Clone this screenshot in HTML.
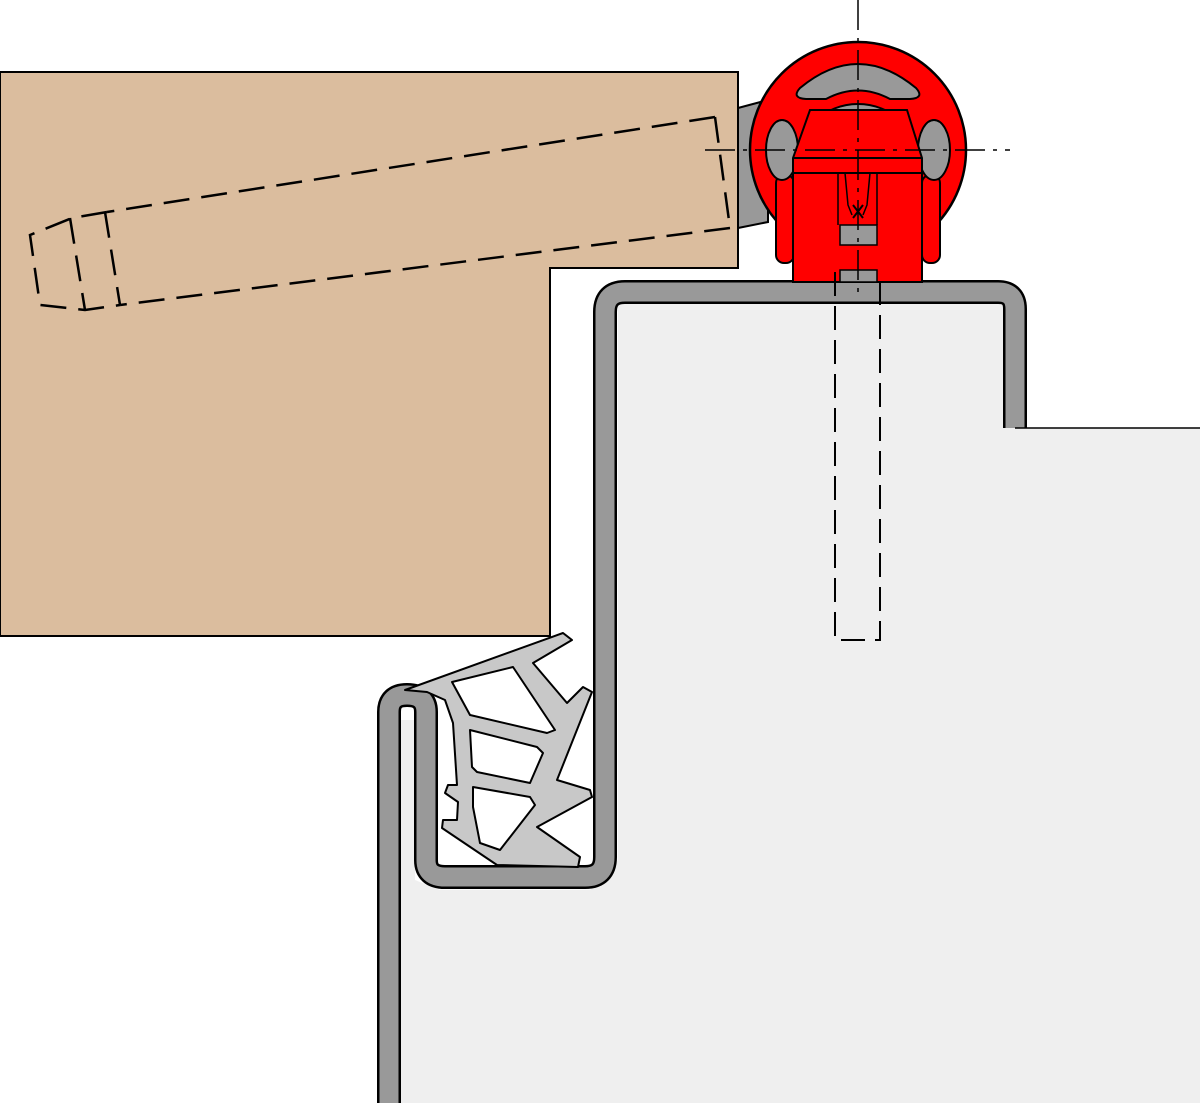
<!DOCTYPE html>
<html><head><meta charset="utf-8"><style>html,body{margin:0;padding:0;background:#fff}svg{display:block}</style></head>
<body>
<svg width="1200" height="1103" viewBox="0 0 1200 1103" xmlns="http://www.w3.org/2000/svg">
<!-- light gray frame area -->
<path d="M618,302 L1005,302 L1005,428 L1200,428 L1200,1103 L400,1103 L400,720 L415,720 L415,880 L440,890 L590,890 L618,860 Z" fill="#efefef"/>
<!-- wood -->
<path d="M0,72 L738,72 L738,268 L550,268 L550,636 L0,636 Z" fill="#dbbd9e" stroke="#000" stroke-width="2"/>
<!-- dashed screw -->
<g fill="none" stroke="#000" stroke-width="2.5" stroke-dasharray="26,12">
<path d="M715,117 L107,212 M730,228 L120,305"/>
<path d="M107,212 L72,218 L30,235 L40,305 L85,310 L120,305"/>
<path d="M105,212 L120,305 M70,218 L85,310"/>
<path d="M715,117 L730,228"/>
</g>
<!-- hinge gray arm -->
<path d="M738,108 L768,100 L768,222 L738,228 Z" fill="#999" stroke="#000" stroke-width="2"/>
<!-- steel profile -->
<path d="M389,1103 L389,712 Q389,695 407,695 Q426,695 426,712 L426,860 Q426,877 445,877 L585,877 Q605,877 605,857 L605,312 Q605,292 625,292 L998,292 Q1015,292 1015,309 L1015,428" fill="none" stroke="#000" stroke-width="24"/>
<path d="M389,1103 L389,712 Q389,695 407,695 Q426,695 426,712 L426,860 Q426,877 445,877 L585,877 Q605,877 605,857 L605,312 Q605,292 625,292 L998,292 Q1015,292 1015,309 L1015,428" fill="none" stroke="#999" stroke-width="19"/>
<line x1="1015" y1="428" x2="1200" y2="428" stroke="#000" stroke-width="1.5"/>
<!-- gasket -->
<path d="M405,690 L563,633 L572,640 L533,663 L567,703 L583,687 L592,692 L557,780 L590,790 L592,797 L537,827 L580,857 L578,867 L497,865 L442,828 L443,820 L457,820 L458,802 L445,793 L448,785 L457,785 L453,723 L445,700 L427,692 Z" fill="#c8c8c8" stroke="#000" stroke-width="2" stroke-linejoin="round"/>
<g fill="#fff" stroke="#000" stroke-width="2" stroke-linejoin="round">
<path d="M452,682 L513,667 L555,730 L547,733 L470,715 Z"/>
<path d="M470,730 L537,747 L543,753 L530,783 L477,772 L472,767 Z"/>
<path d="M473,787 L530,797 L535,805 L500,850 L480,843 L473,807 Z"/>
</g>
<!-- hinge -->
<circle cx="858" cy="150" r="108" fill="#f00" stroke="#000" stroke-width="2.5"/>
<rect x="776" y="175" width="18" height="88" rx="8" fill="#f00" stroke="#000" stroke-width="2"/>
<rect x="922" y="175" width="18" height="88" rx="8" fill="#f00" stroke="#000" stroke-width="2"/>
<path d="M800,88 Q858,40 916,88 Q925,98 910,99 L890,99 Q858,82 826,99 L806,99 Q791,98 800,88 Z" fill="#999" stroke="#000" stroke-width="2"/>
<ellipse cx="782" cy="150" rx="16" ry="30" fill="#999" stroke="#000" stroke-width="2"/>
<ellipse cx="934" cy="150" rx="16" ry="30" fill="#999" stroke="#000" stroke-width="2"/>
<circle cx="858" cy="168" r="64" fill="#999" stroke="#000" stroke-width="2"/>
<path d="M810,110 L907,110 L922,158 L922,282 L793,282 L793,158 Z" fill="#f00" stroke="#000" stroke-width="2"/>
<line x1="793" y1="158" x2="922" y2="158" stroke="#000" stroke-width="2"/>
<line x1="793" y1="173" x2="922" y2="173" stroke="#000" stroke-width="2"/>
<path d="M838,173 L838,225 M877,173 L877,225 M845,173 L848,205 L852,215 M870,173 L867,205 L863,215" stroke="#000" stroke-width="1.5" fill="none"/>
<rect x="840" y="225" width="37" height="20" fill="#999" stroke="#000" stroke-width="1.5"/>
<path d="M853,205 L863,218 M863,205 L853,218" stroke="#000" stroke-width="2"/>
<rect x="840" y="270" width="37" height="12" fill="#999" stroke="#000" stroke-width="1.5"/>
<!-- centerlines -->
<g stroke="#000" stroke-width="1.5" stroke-dasharray="30,8,4,8" fill="none">
<line x1="858" y1="0" x2="858" y2="300"/>
<line x1="705" y1="150" x2="1010" y2="150"/>
</g>
<!-- dashed bolt -->
<path d="M835,272 L835,640 L880,640 L880,272" fill="none" stroke="#000" stroke-width="2" stroke-dasharray="24,10"/>
</svg>
</body></html>
